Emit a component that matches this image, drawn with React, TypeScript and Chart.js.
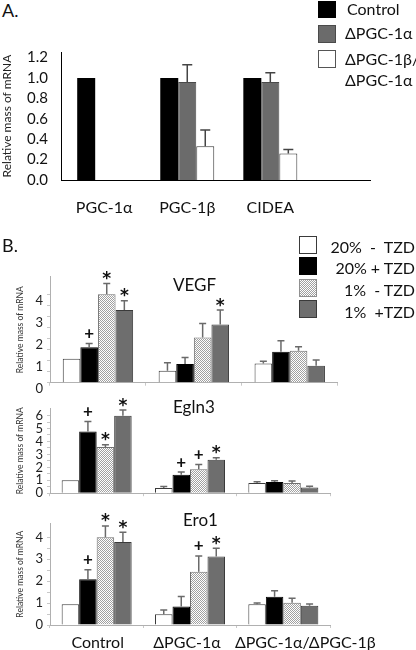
import React, { useEffect, useRef } from 'react';
import { Chart, registerables } from 'chart.js';

Chart.register(...registerables);

const FONT = "Lato, 'Open Sans', sans-serif";

// ---------------- Panel A data ----------------
const aCategories = ['PGC-1α', 'PGC-1β', 'CIDEA'];
const aSeries = ['Control', 'ΔPGC-1α', 'ΔPGC-1β/ΔPGC-1α'];
const aControl = [1.0, 1.0, 1.0];
const aDeltaAlpha = [null, 0.96, 0.96];
const aDeltaBetaAlpha = [null, 0.33, 0.26];
const aControlErr = [0, 0, 0];
const aDeltaAlphaErr = [0, 0.17, 0.09];
const aDeltaBetaAlphaErr = [0, 0.16, 0.04];
const aYTicks = [0, 0.2, 0.4, 0.6, 0.8, 1.0, 1.2];

// ---------------- Panel B data ----------------
const bGroups = ['Control', 'ΔPGC-1α', 'ΔPGC-1α/ΔPGC-1β'];
const bSeries = ['20%  -  TZD', '20% + TZD', '1%  - TZD', '1%  +TZD'];

// VEGF
const vegf20NoTzd = [1.09, 0.54, 0.87];
const vegf20Tzd = [1.61, 0.85, 1.4];
const vegf1NoTzd = [4.01, 2.05, 1.45];
const vegf1Tzd = [3.29, 2.64, 0.77];
const vegf20NoTzdErr = [0, 0.36, 0.1];
const vegf20TzdErr = [0.17, 0.29, 0.5];
const vegf1NoTzdErr = [0.48, 0.63, 0.18];
const vegf1TzdErr = [0.42, 0.65, 0.26];
const vegf20TzdMarks = ['+', '', ''];
const vegf1NoTzdMarks = ['*', '', ''];
const vegf1TzdMarks = ['*', '*', ''];
const vegfYTicks = [0, 1, 2, 3, 4];

// Egln3
const egln20NoTzd = [1.0, 0.41, 0.79];
const egln20Tzd = [4.77, 1.43, 0.87];
const egln1NoTzd = [3.57, 1.86, 0.79];
const egln1Tzd = [5.99, 2.58, 0.44];
const egln20NoTzdErr = [0, 0.1, 0.1];
const egln20TzdErr = [0.77, 0.2, 0.1];
const egln1NoTzdErr = [0.18, 0.36, 0.15];
const egln1TzdErr = [0.43, 0.15, 0.1];
const egln20TzdMarks = ['+', '+', ''];
const egln1NoTzdMarks = ['*', '+', ''];
const egln1TzdMarks = ['*', '*', ''];
const eglnYTicks = [0, 1, 2, 3, 4, 5, 6];

// Ero1
const ero20NoTzd = [0.95, 0.49, 0.95];
const ero20Tzd = [2.09, 0.84, 1.29];
const ero1NoTzd = [4.0, 2.43, 1.02];
const ero1Tzd = [3.79, 3.12, 0.88];
const ero20NoTzdErr = [0, 0.2, 0.05];
const ero20TzdErr = [0.43, 0.46, 0.27];
const ero1NoTzdErr = [0.52, 0.72, 0.2];
const ero1TzdErr = [0.44, 0.38, 0.08];
const ero20TzdMarks = ['+', '', ''];
const ero1NoTzdMarks = ['*', '+', ''];
const ero1TzdMarks = ['*', '*', ''];
const eroYTicks = [0, 1, 2, 3, 4];

// ---------------- plugin: error bars + significance marks ----------------
const errorBarsPlugin = {
  id: 'errorBars',
  afterDatasetsDraw(chart: any) {
    const o = chart.options.plugins.errorBars || {};
    const ctx = chart.ctx;
    const yScale = chart.scales.y;
    ctx.save();
    chart.data.datasets.forEach((ds: any, di: number) => {
      const meta = chart.getDatasetMeta(di);
      meta.data.forEach((el: any, i: number) => {
        const raw = ds.data[i];
        const v = raw && typeof raw === 'object' ? raw.y : raw;
        if (v == null) return;
        const e = ds.errors ? ds.errors[i] || 0 : 0;
        const x = el.x;
        const top = yScale.getPixelForValue(v + e);
        if (e > 0) {
          ctx.strokeStyle = o.color;
          ctx.lineWidth = o.width;
          ctx.beginPath();
          ctx.moveTo(x, el.y);
          ctx.lineTo(x, top);
          ctx.moveTo(x - o.cap / 2, top);
          ctx.lineTo(x + o.cap / 2, top);
          ctx.stroke();
        }
        const m = ds.marks ? ds.marks[i] : '';
        if (m) {
          const isStar = m === '*';
          ctx.font = isStar ? o.starFont : o.plusFont;
          ctx.fillStyle = '#111';
          ctx.textAlign = 'center';
          ctx.textBaseline = 'alphabetic';
          const mt = ctx.measureText(m);
          const cy = top - (isStar ? o.starGap : o.plusGap);
          const baseline = cy + (mt.actualBoundingBoxAscent - mt.actualBoundingBoxDescent) / 2;
          ctx.fillText(m, x, baseline);
        }
      });
    });
    ctx.restore();
  },
};

// draws category names under the x axis, each nudged by a style offset
const groupLabelsPlugin = {
  id: 'groupLabels',
  afterDraw(chart: any) {
    const o = chart.options.plugins.groupLabels;
    if (!o || !o.display) return;
    const ctx = chart.ctx;
    const xs = chart.scales.x;
    ctx.save();
    ctx.font = o.font;
    ctx.fillStyle = o.color;
    ctx.textAlign = 'center';
    ctx.textBaseline = 'alphabetic';
    chart.data.labels.forEach((lab: string, i: number) => {
      const x = xs.getPixelForValue(i) + (o.shift[i] || 0);
      ctx.fillText(lab, x, xs.top + o.baselineGap);
    });
    ctx.restore();
  },
};

function makeStipple(ctx: CanvasRenderingContext2D) {
  const c = document.createElement('canvas');
  c.width = 2;
  c.height = 2;
  const g = c.getContext('2d')!;
  g.fillStyle = '#ffffff';
  g.fillRect(0, 0, 2, 2);
  g.fillStyle = '#a0a0a0';
  g.fillRect(0, 0, 1, 1);
  g.fillRect(1, 1, 1, 1);
  return ctx.createPattern(c, 'repeat');
}

function withHalves(ticks: number[]) {
  const t: { value: number }[] = [];
  ticks.forEach((v, i) => {
    t.push({ value: v });
    if (i < ticks.length - 1) t.push({ value: (v + ticks[i + 1]) / 2 });
  });
  return t;
}

type Geo = { width: number; height: number; padTop: number; padRight: number; yWidth: number; xHeight: number };

const markStyle = {
  plusFont: `bold 17px ${FONT}`,
  starFont: `bold 17px 'DejaVu Sans', sans-serif`,
  starGap: 8,
  plusGap: 10,
};

function buildA(canvas: HTMLCanvasElement, geo: Geo) {
  const pts = (arr: (number | null)[]) => arr.map((v, i) => ({ x: i, y: v }));
  return new Chart(canvas, {
    type: 'bar',
    data: {
      datasets: [
        { label: aSeries[0], data: pts(aControl), errors: aControlErr, backgroundColor: '#000', borderColor: '#000', borderWidth: 0 } as any,
        { label: aSeries[1], data: pts(aDeltaAlpha), errors: aDeltaAlphaErr, backgroundColor: '#6b6b6b', borderColor: '#4a4a4a', borderWidth: 1 } as any,
        { label: aSeries[2], data: pts(aDeltaBetaAlpha), errors: aDeltaBetaAlphaErr, backgroundColor: '#fff', borderColor: '#333', borderWidth: 1 } as any,
      ],
    },
    options: {
      responsive: false,
      maintainAspectRatio: false,
      animation: false,
      layout: { padding: { top: geo.padTop, right: geo.padRight, left: 0, bottom: 0 } },
      datasets: { bar: { categoryPercentage: 0.65, barPercentage: 1, borderSkipped: 'bottom' } },
      plugins: {
        legend: { display: false },
        tooltip: { enabled: false },
        errorBars: { color: '#444', width: 1.5, cap: 10, ...markStyle },
      } as any,
      scales: {
        x: {
          type: 'linear',
          min: -0.52,
          max: 3.2,
          offset: false,
          grid: { display: false, drawTicks: false },
          border: { display: true, color: '#000', width: 1 },
          afterBuildTicks: (s: any) => {
            s.ticks = aCategories.map((_, i) => ({ value: i }));
          },
          afterFit: (s: any) => {
            s.height = geo.xHeight;
          },
          ticks: {
            callback: (v: any) => aCategories[v] ?? '',
            padding: 18,
            font: { size: 16, family: FONT },
            color: '#111',
            maxRotation: 0,
            minRotation: 0,
            autoSkip: false,
          },
        },
        y: {
          min: 0,
          max: 1.2545,
          grid: { display: false, drawTicks: false },
          border: { display: true, color: '#000', width: 1 },
          afterBuildTicks: (s: any) => {
            s.ticks = aYTicks.map((v) => ({ value: v }));
          },
          afterFit: (s: any) => {
            s.width = geo.yWidth;
          },
          ticks: {
            callback: (v: any) => Number(v).toFixed(1),
            padding: 13,
            font: { size: 15, family: FONT },
            color: '#111',
          },
          title: {
            display: true,
            text: 'Relative mass of mRNA',
            font: { size: 12, family: FONT },
            color: '#222',
            padding: { top: 0, bottom: 0 },
          },
        },
      },
    } as any,
    plugins: [errorBarsPlugin],
  });
}

type BData = {
  values: number[][];
  errors: number[][];
  marks: string[][];
  yTicks: number[];
  yMax: number;
  labelOffset: number;
  catPct: number;
  showX: boolean;
};

function buildB(canvas: HTMLCanvasElement, geo: Geo, d: BData) {
  const ctx = canvas.getContext('2d')!;
  const stipple = makeStipple(ctx);
  const fills = ['#ffffff', '#000000', stipple, '#6e6e6e'];
  const borders = ['#3a3a3a', '#000000', '#707070', '#3a3a3a'];
  return new Chart(canvas, {
    type: 'bar',
    data: {
      labels: bGroups,
      datasets: bSeries.map((name, k) => ({
        label: name,
        data: d.values[k],
        errors: d.errors[k],
        marks: d.marks[k],
        backgroundColor: fills[k],
        borderColor: borders[k],
        borderWidth: 1,
      })) as any,
    },
    options: {
      responsive: false,
      maintainAspectRatio: false,
      animation: false,
      layout: { padding: { top: geo.padTop, right: geo.padRight, left: 0, bottom: 0 } },
      datasets: { bar: { categoryPercentage: d.catPct, barPercentage: 1, borderSkipped: 'bottom' } },
      plugins: {
        legend: { display: false },
        tooltip: { enabled: false },
        errorBars: { color: '#6a6a6a', width: 1.5, cap: 7, ...markStyle },
        groupLabels: { display: d.showX, font: `16px ${FONT}`, color: '#111', shift: [1, -3, 22], baselineGap: 23 },
      } as any,
      scales: {
        x: {
          type: 'category',
          offset: true,
          grid: { display: true, drawOnChartArea: false, drawTicks: true, tickLength: 3, color: '#c8c8c8', offset: true },
          border: { display: true, color: '#b0b0b0', width: 1 },
          afterFit: (s: any) => {
            s.height = geo.xHeight;
          },
          ticks: { display: false },
        },
        y: {
          min: 0,
          max: d.yMax,
          grid: { display: true, drawOnChartArea: false, drawTicks: true, tickLength: 3, color: '#c8c8c8' },
          border: { display: true, color: '#b0b0b0', width: 1 },
          afterBuildTicks: (s: any) => {
            s.ticks = withHalves(d.yTicks);
          },
          afterFit: (s: any) => {
            s.width = geo.yWidth;
          },
          ticks: {
            callback: (v: any) => (d.yTicks.includes(Number(v)) ? String(v) : ''),
            padding: 4,
            labelOffset: d.labelOffset,
            font: { size: 13, family: FONT },
            color: '#222',
            autoSkip: false,
          },
          title: {
            display: true,
            text: 'Relative mass of mRNA',
            font: { size: 8.5, family: FONT },
            color: '#333',
            padding: { top: 15, bottom: 0 },
          },
        },
      },
    } as any,
    plugins: [errorBarsPlugin, groupLabelsPlugin],
  });
}

const geoA: Geo = { width: 380, height: 200, padTop: 12, padRight: 10, yWidth: 61, xHeight: 50 };
const geoVegf: Geo = { width: 345, height: 142, padTop: 14.7, padRight: 7.3, yWidth: 50, xHeight: 21.3 };
const geoEgln: Geo = { width: 340, height: 110, padTop: 13.3, padRight: 10, yWidth: 50, xHeight: 11 };
const geoEro: Geo = { width: 416, height: 142, padTop: 15.3, padRight: 86, yWidth: 50, xHeight: 25 };

function Txt(props: { x: number; y: number; size: number; children: any; right?: boolean; weight?: number }) {
  const { x, y, size, children, right } = props;
  const style: any = {
    position: 'absolute',
    top: y - 0.627 * size,
    fontSize: size,
    lineHeight: 1.2,
    fontFamily: FONT,
    color: '#111',
    whiteSpace: 'pre',
    fontWeight: props.weight || 400,
    zIndex: 5,
  };
  if (right) style.right = 416 - x;
  else style.left = x;
  return <div style={style}>{children}</div>;
}

function Box(props: { x: number; y: number; w: number; h: number; bg: string; border?: string }) {
  return (
    <div
      style={{
        position: 'absolute',
        left: props.x,
        top: props.y,
        width: props.w,
        height: props.h,
        boxSizing: 'border-box',
        background: props.bg,
        border: props.border ? `1px solid ${props.border}` : 'none',
        zIndex: 5,
      }}
    />
  );
}

export default function App() {
  const refA = useRef<HTMLCanvasElement>(null);
  const refV = useRef<HTMLCanvasElement>(null);
  const refE = useRef<HTMLCanvasElement>(null);
  const refO = useRef<HTMLCanvasElement>(null);

  useEffect(() => {
    const charts: Chart[] = [];
    charts.push(buildA(refA.current!, geoA));
    charts.push(
      buildB(refV.current!, geoVegf, {
        values: [vegf20NoTzd, vegf20Tzd, vegf1NoTzd, vegf1Tzd],
        errors: [vegf20NoTzdErr, vegf20TzdErr, vegf1NoTzdErr, vegf1TzdErr],
        marks: [['', '', ''], vegf20TzdMarks, vegf1NoTzdMarks, vegf1TzdMarks],
        yTicks: vegfYTicks,
        yMax: 4.8,
        labelOffset: 6.5,
        catPct: 0.734,
        showX: false,
      })
    );
    charts.push(
      buildB(refE.current!, geoEgln, {
        values: [egln20NoTzd, egln20Tzd, egln1NoTzd, egln1Tzd],
        errors: [egln20NoTzdErr, egln20TzdErr, egln1NoTzdErr, egln1TzdErr],
        marks: [['', '', ''], egln20TzdMarks, egln1NoTzdMarks, egln1TzdMarks],
        yTicks: eglnYTicks,
        yMax: 6.56,
        labelOffset: 0,
        catPct: 0.75,
        showX: false,
      })
    );
    charts.push(
      buildB(refO.current!, geoEro, {
        values: [ero20NoTzd, ero20Tzd, ero1NoTzd, ero1Tzd],
        errors: [ero20NoTzdErr, ero20TzdErr, ero1NoTzdErr, ero1TzdErr],
        marks: [['', '', ''], ero20TzdMarks, ero1NoTzdMarks, ero1TzdMarks],
        yTicks: eroYTicks,
        yMax: 4.64,
        labelOffset: 0,
        catPct: 0.75,
        showX: true,
      })
    );
    return () => charts.forEach((c) => c.destroy());
  }, []);

  const cv = (ref: any, left: number, top: number, g: Geo, z: number) => (
    <canvas ref={ref} width={g.width} height={g.height} style={{ position: 'absolute', left, top, width: g.width, height: g.height, zIndex: z }} />
  );

  const stippleCss = 'repeating-conic-gradient(#a0a0a0 0% 25%, #ffffff 0% 50%) 0 0 / 2px 2px';

  return (
    <div style={{ position: 'absolute', left: 0, top: 0, width: 416, height: 650, background: '#fff', overflow: 'hidden' }}>
      {cv(refA, 0, 30, geoA, 1)}
      {cv(refO, 0, 508, geoEro, 1)}
      {cv(refE, 0, 395, geoEgln, 2)}
      {cv(refV, 0, 262, geoVegf, 3)}

      <Txt x={2} y={11.5} size={18}>A.</Txt>
      <Txt x={2} y={246.5} size={18}>B.</Txt>

      {/* Legend A */}
      <Box x={318} y={1} w={18} h={17} bg="#000" />
      <Box x={318} y={25} w={18} h={18} bg="#6b6b6b" border="#4a4a4a" />
      <Box x={318} y={50} w={18} h={18} bg="#fff" border="#555" />
      <Txt x={347} y={9.5} size={16}>{aSeries[0]}</Txt>
      <Txt x={345} y={33.5} size={16}>{aSeries[1]}</Txt>
      <Txt x={345} y={59} size={16}>{'ΔPGC-1β/'}</Txt>
      <Txt x={345} y={80} size={16}>{'ΔPGC-1α'}</Txt>

      {/* Legend B */}
      <Box x={299} y={236} w={18} h={17.5} bg="#fff" border="#3a3a3a" />
      <Box x={299} y={257} w={18} h={17.5} bg="#000" />
      <div style={{ position: 'absolute', left: 299, top: 279, width: 18, height: 18, boxSizing: 'border-box', background: stippleCss, border: '1px solid #909090', zIndex: 5 }} />
      <Box x={299} y={300} w={18} h={18} bg="#6e6e6e" border="#3a3a3a" />
      <Txt x={415} y={247} size={16} right>{bSeries[0]}</Txt>
      <Txt x={415} y={268.5} size={16} right>{bSeries[1]}</Txt>
      <Txt x={415} y={290.5} size={16} right>{bSeries[2]}</Txt>
      <Txt x={415} y={312} size={16} right>{bSeries[3]}</Txt>

      {/* Panel titles */}
      <Txt x={173} y={286} size={17}>VEGF</Txt>
      <Txt x={173} y={407.5} size={17}>Egln3</Txt>
      <Txt x={183} y={521} size={17}>Ero1</Txt>
    </div>
  );
}
